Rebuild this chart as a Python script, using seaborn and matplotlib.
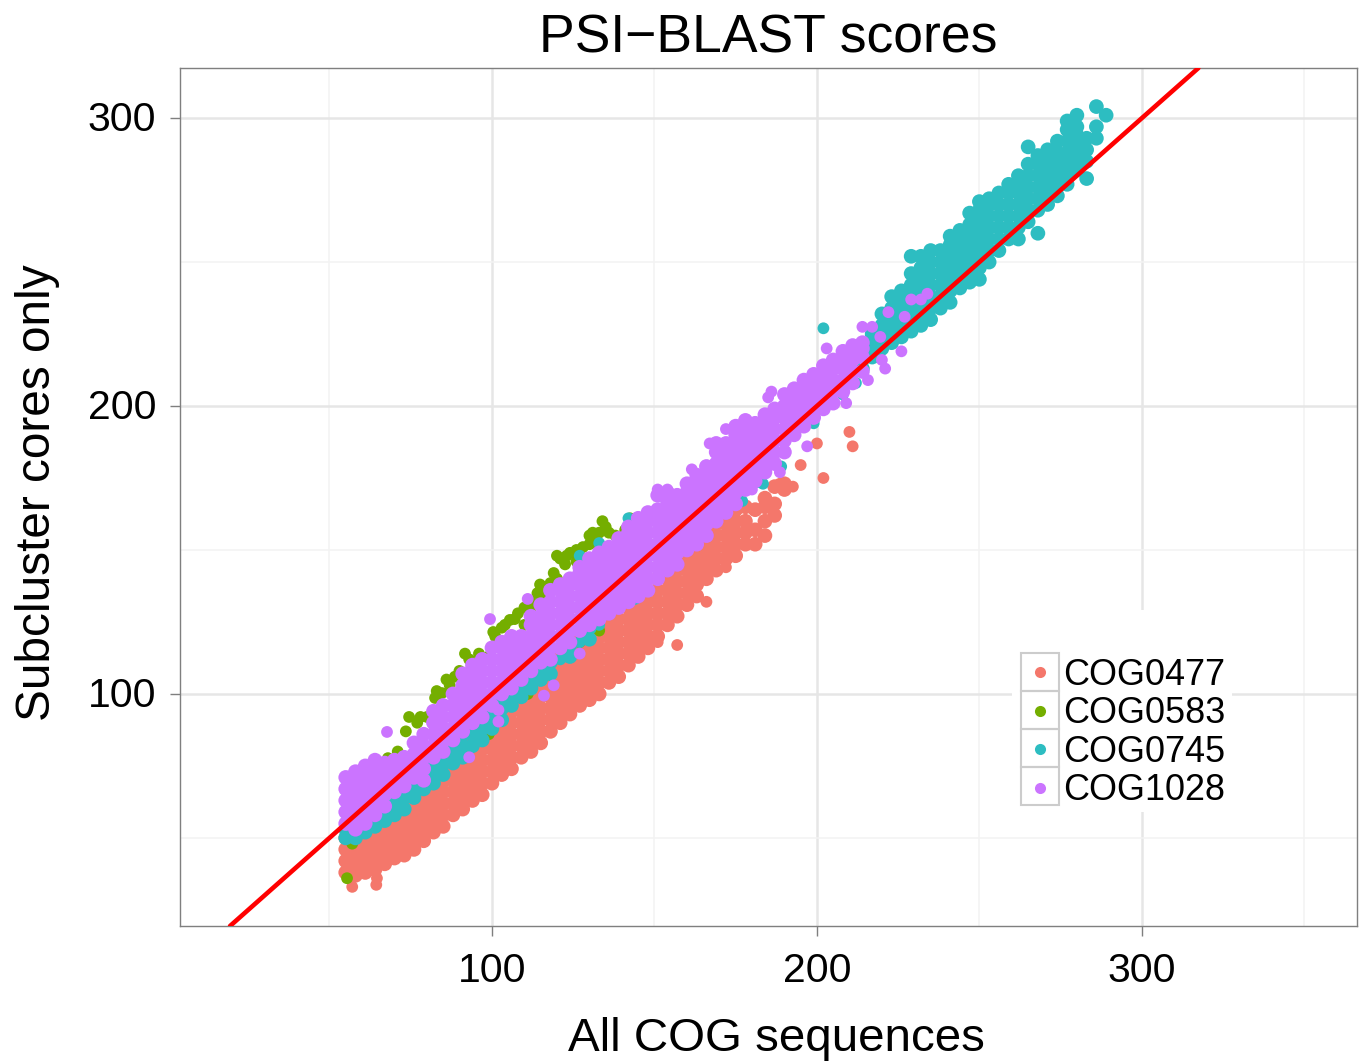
#!/usr/bin/env python3
"""PSI-BLAST scores: subcluster cores against all COG sequences."""

import pandas as pd
import seaborn as sns
import matplotlib.pyplot as plt
from matplotlib.lines import Line2D
from matplotlib.patches import Rectangle
from matplotlib.transforms import ScaledTranslation

WIDTH, HEIGHT = 1363, 1061

# values, one x with the y values seen above it
salmon_x = [55, 58, 61, 64, 67, 70, 73, 76, 79, 82, 85, 88, 91, 94, 97, 100, 103, 106, 109, 112,
            115, 118, 121, 124, 127, 130, 133, 136, 139, 142, 145, 148, 151, 154, 157, 160, 163,
            166, 169, 172, 175, 178, 181, 184, 187, 190]
salmon_y = [[38, 42, 46, 50], [37, 41, 45, 49, 52], [38, 42, 46, 50, 53], [39, 43, 47, 51, 55],
            [41, 45, 49, 53, 57], [43, 47, 51, 55, 59], [44, 48, 52, 56, 60, 63],
            [46, 50, 54, 58, 62, 66], [49, 53, 57, 61, 65, 69], [52, 56, 60, 64, 68, 72],
            [54, 58, 62, 66, 70, 74], [58, 62, 66, 70, 74, 78], [60, 64, 68, 72, 76, 80],
            [63, 67, 71, 75, 79, 83], [65, 69, 73, 77, 81, 85], [69, 73, 77, 81, 85, 89, 92],
            [72, 76, 80, 84, 88, 92, 95], [74, 78, 82, 86, 90, 94, 98],
            [78, 82, 86, 90, 94, 98, 101], [80, 84, 88, 92, 96, 100, 104],
            [83, 87, 91, 95, 99, 103, 107], [87, 91, 95, 99, 103, 107, 110],
            [90, 94, 98, 102, 106, 110, 113], [93, 97, 101, 105, 109, 113, 116],
            [96, 100, 104, 108, 112, 116, 119], [98, 102, 106, 110, 114, 118, 122],
            [100, 104, 108, 112, 116, 120, 124], [104, 108, 112, 116, 120, 124, 127],
            [106, 110, 114, 118, 122, 126, 130], [110, 114, 118, 122, 126, 130, 133],
            [113, 117, 121, 125, 129, 133], [116, 120, 124, 128, 132, 136],
            [120, 124, 128, 132, 136, 140], [124, 128, 132, 136, 140, 144],
            [127, 131, 135, 139, 143, 147], [131, 135, 139, 143, 147, 150],
            [134, 138, 142, 146, 150, 153], [140, 144, 148, 152, 156], [143, 147, 151, 155, 159],
            [147, 151, 155, 159], [148, 152, 156, 160, 164], [152, 156, 160, 165],
            [152, 157, 164], [155, 160, 165, 168], [162, 166, 172], [171, 173]]
salmon_extra_x = [57, 64.4, 64.6, 151, 157, 166, 172, 195, 202, 200, 210, 211, 192.6, 188.6]
salmon_extra_y = [33, 33.7, 36, 118, 117, 132, 144, 179.5, 175, 187, 191, 186, 172, 173]

green_x = [55.4, 57, 68, 71, 73.5, 74.5, 77, 82.5, 84.6, 86, 88.6, 91.7, 91.7, 96, 99, 100.4, 103,
           105.5, 108, 111.7, 114, 114.8, 118, 120, 122.5, 124, 128, 132, 134, 130, 141, 142.5,
           99, 111, 127, 133, 110, 116, 120, 126, 80, 94, 131, 136, 138,
           78, 83, 87, 90, 93, 101, 104, 107, 110, 112, 116, 119, 121, 123, 126, 130, 133, 135]
green_y = [36, 48, 77.7, 80, 87, 92, 90, 98.6, 100.3, 105, 106, 105, 114, 114, 113, 121.5, 123,
           125.7, 128, 129, 135, 138, 138.5, 148, 145, 149, 151, 152.4, 160, 152, 157, 161,
           86, 100, 118, 122, 124, 134, 140, 146, 92, 110, 156, 156, 155,
           92, 101, 103, 108, 112, 120, 124, 126, 130, 132, 137, 142, 147, 148, 150, 155, 156, 158]

teal_x = [55, 58, 61, 64, 67, 70, 73, 76, 79, 82, 85, 88, 91, 94, 97, 100, 103, 106, 109, 112, 115,
          118, 124, 130, 214, 217, 220, 223, 226, 229, 232, 235, 238, 241, 244, 247, 250, 253,
          256, 259, 262, 265, 268, 271, 274, 277, 280, 283, 286, 289]
teal_y = [[50, 53], [50, 54], [52, 56, 60], [54, 58, 62], [56, 60, 64], [58, 62, 66], [60, 64, 68],
          [64, 68, 72], [67, 71, 75], [69, 73, 77], [72, 76, 80], [76, 80, 84], [78, 82, 86],
          [82, 86, 90], [84, 88, 92], [88, 92, 96], [91, 95, 99], [96, 100], [99, 103], [102, 106],
          [105, 109], [107, 111], [113, 117], [119, 123], [213, 217, 221], [217, 221, 225],
          [220, 224, 228, 232], [222, 226, 230, 234, 238], [224, 228, 232, 236, 240],
          [226, 230, 234, 238, 242, 246, 252], [228, 232, 236, 240, 244, 248, 252],
          [230, 234, 238, 242, 246, 250, 254], [234, 238, 242, 246, 250, 254],
          [236, 240, 244, 248, 252, 256, 259], [241, 245, 249, 253, 257, 261],
          [243, 247, 251, 255, 259, 263, 267], [244, 248, 252, 256, 260, 264, 268, 271],
          [250, 254, 258, 262, 266, 270, 272], [254, 258, 262, 266, 270, 274],
          [258, 262, 266, 270, 274, 277], [258, 262, 266, 270, 274, 278, 280],
          [264, 268, 272, 276, 280, 284, 290], [260, 268, 272, 276, 280, 284, 287],
          [270, 274, 278, 282, 286, 289], [273, 277, 281, 285, 288, 292],
          [277, 280, 284, 288, 292, 296, 299], [282, 286, 290, 294, 297, 301],
          [279, 285, 289, 293], [293, 297, 304], [301]]
teal_extra_x = [144, 121, 127, 133, 142, 183.4, 181.6, 189, 177, 202, 208, 212, 199, 210,
                121, 127, 133]
teal_extra_y = [133, 138, 148, 152.4, 161, 173, 173.6, 179, 167, 227, 204, 208, 194, 212,
                112, 118, 124]

pink_x = [55, 58, 61, 64, 67, 70, 73, 76, 79, 82, 85, 88, 91, 94, 97, 100, 103, 106, 109, 112, 115,
          118, 121, 124, 127, 130, 133, 136, 139, 142, 145, 148, 151, 154, 157, 160, 163, 166,
          169, 172, 175, 178, 181, 184, 187, 190, 193, 196, 199, 202, 205, 208, 211, 214]
pink_y = [[55, 59, 63, 67, 71], [53, 57, 61, 65, 69, 73], [55, 59, 63, 67, 71, 75],
          [58, 62, 66, 70, 74, 77], [61, 65, 69, 73, 76], [66, 70, 74, 77], [68, 72, 76, 78],
          [71, 75, 79, 83], [70, 74, 78, 82, 86], [78, 82, 86, 90, 94], [80, 84, 88, 92, 96],
          [84, 88, 92, 96, 100], [87, 91, 95, 99, 103, 107], [90, 94, 98, 102, 106, 110],
          [92, 96, 100, 104, 108, 112], [96, 100, 104, 108, 112, 116],
          [100, 104, 108, 112, 116, 118], [102, 106, 110, 114, 118, 120],
          [105, 109, 113, 117, 120], [108, 112, 116, 120, 124, 127],
          [111, 115, 119, 123, 127, 131], [112, 116, 120, 124, 128, 132, 136],
          [116, 120, 124, 128, 132, 136, 138], [118, 122, 126, 130, 134, 138, 140],
          [122, 126, 130, 134, 138, 142, 144], [124, 128, 132, 136, 140, 144, 147],
          [126, 130, 134, 138, 142, 146, 149], [128, 132, 136, 140, 144, 148, 151],
          [130, 134, 138, 142, 146, 150, 154], [132, 136, 140, 144, 148, 152, 156, 158],
          [134, 138, 142, 146, 150, 154, 158, 161], [136, 140, 144, 148, 152, 156, 160, 163],
          [140, 144, 148, 152, 156, 160, 164, 169], [143, 147, 151, 155, 159, 163, 167, 170],
          [145, 149, 153, 157, 161, 165, 169], [150, 154, 158, 162, 166, 170, 173],
          [152, 156, 160, 164, 168, 172, 176], [155, 159, 163, 167, 171, 175, 179],
          [160, 164, 168, 172, 176, 180, 184, 187], [163, 167, 171, 175, 179, 183, 187],
          [166, 170, 174, 178, 182, 186, 190, 193], [171, 175, 179, 183, 187, 191, 195],
          [174, 178, 182, 186, 190, 194], [177, 181, 185, 189, 193, 197],
          [180, 184, 188, 192, 196, 199], [184, 188, 192, 196, 200, 204],
          [190, 194, 198, 202, 206], [193, 197, 201, 205, 209], [196, 200, 204, 208, 211],
          [199, 203, 207, 211, 214], [201, 205, 209, 213, 216], [205, 209, 213, 217, 219],
          [208, 212, 216, 219, 221], [212, 217, 220, 222]]
pink_extra_x = [99.4, 67.7, 111, 116, 119, 127, 93, 102, 102, 197, 188.6, 182, 180, 209, 215.7,
                203, 214, 217, 219.5, 222, 227, 229, 232, 234, 226, 220, 221, 172, 178, 185, 186,
                151, 154, 161.5, 167]
pink_extra_y = [126, 86.8, 133, 99.4, 103, 114, 78, 94.4, 90.4, 186, 177, 177, 171, 201, 209,
                220, 227.5, 227.5, 224, 232.6, 231, 237, 237, 239, 219, 216, 213, 192, 195, 203,
                205, 171, 171, 178, 187]

cog_names = ['COG0477', 'COG0583', 'COG0745', 'COG1028']
cog_colors = ['#F4776B', '#74AE00', '#2DBDC1', '#CB74FF']
x_ticks = [100, 200, 300]
y_ticks = [100, 200, 300]
x_minor = [50, 150, 250, 350]
y_minor = [50, 150, 250]


def columns_to_frame(name, xs, ys, extra_x=(), extra_y=()):
    """Flatten one x per column with its y values into long rows."""
    dense = [(x, y, 'dense') for x, col in zip(xs, ys) for y in col]
    single = [(x, y, 'single') for x, y in zip(extra_x, extra_y)]
    df = pd.DataFrame(dense + single, columns=['all_cog', 'core', 'pt'])
    df['cog'] = name
    return df


def px_to_axes(ax, px, py):
    """Picture pixels (origin top left) to axes fractions."""
    box = ax.get_position()
    return ((px / WIDTH - box.x0) / box.width,
            ((1 - py / HEIGHT) - box.y0) / box.height)


def main():
    sns.set_theme(style='white')
    plt.rcParams['font.family'] = ['Liberation Sans', 'DejaVu Sans']

    df = pd.concat([
        columns_to_frame('COG0477', salmon_x, salmon_y, salmon_extra_x, salmon_extra_y),
        pd.DataFrame({'all_cog': green_x, 'core': green_y, 'pt': 'single', 'cog': 'COG0583'}),
        columns_to_frame('COG0745', teal_x, teal_y, teal_extra_x, teal_extra_y),
        columns_to_frame('COG1028', pink_x, pink_y, pink_extra_x, pink_extra_y),
    ], ignore_index=True)

    fig = plt.figure(figsize=(WIDTH / 100, HEIGHT / 100), dpi=100)
    ax = fig.add_axes([180 / WIDTH, 1 - 926 / HEIGHT, 1177 / WIDTH, 858 / HEIGHT])

    sns.scatterplot(data=df, x='all_cog', y='core', hue='cog', hue_order=cog_names,
                    palette=cog_colors, size='pt', sizes={'dense': 112, 'single': 72},
                    linewidth=0, alpha=1, legend=False, ax=ax, zorder=3)
    ax.axline((100, 100), slope=1, color='#FF0000', lw=3.3, zorder=4)

    ax.set_xlim(4, 366.2)
    ax.set_ylim(19.4, 317.4)
    ax.set_xticks(x_ticks)
    ax.set_yticks(y_ticks)
    ax.set_xticks(x_minor, minor=True)
    ax.set_yticks(y_minor, minor=True)
    ax.grid(True, which='major', color='#E6E6E6', lw=1.8, zorder=1)
    ax.grid(True, which='minor', color='#F3F3F3', lw=1.1, zorder=1)
    ax.set_axisbelow(True)
    ax.tick_params(axis='x', which='major', labelsize=29.5, length=7, width=1,
                   color='#7F7F7F', bottom=True, pad=12)
    ax.tick_params(axis='y', which='major', labelsize=29.5, length=7, width=1,
                   color='#7F7F7F', left=True, pad=10)
    ax.tick_params(axis='both', which='minor', length=0)
    for spine in ax.spines.values():
        spine.set_color('#7F7F7F')
        spine.set_linewidth(1)

    ax.set_title('PSI\u2212BLAST scores', fontsize=38.5, pad=11, color='black')
    ax.set_xlabel('All COG sequences', fontsize=34.2, labelpad=19, color='black')
    ax.xaxis.label.set_x(0.507)
    ax.set_ylabel('Subcluster cores only', fontsize=34.4, labelpad=20, color='black')
    ax.yaxis.label.set_y(0.505)
    for label in ax.get_xticklabels() + ax.get_yticklabels():
        label.set_color('black')
    # y tick labels sit a little high in the original
    nudge = ScaledTranslation(0, 1.5 / 72, fig.dpi_scale_trans)
    for label in ax.get_yticklabels():
        label.set_transform(label.get_transform() + nudge)

    # white patch under the legend, the grid stops around it
    x0, y1 = px_to_axes(ax, 1012, 610)
    x1, y0 = px_to_axes(ax, 1232, 812)
    ax.add_patch(Rectangle((x0, y0), x1 - x0, y1 - y0, transform=ax.transAxes,
                           facecolor='white', edgecolor='none', zorder=2))

    handles = [Line2D([], [], marker='o', linestyle='none', color=c, markeredgewidth=0, markersize=8)
               for c in cog_colors]
    lx, ly = px_to_axes(ax, 1021, 733)
    ax.legend(handles, cog_names, loc='center left', bbox_to_anchor=(lx, ly), frameon=False,
              fontsize=25.9, labelspacing=0.10, borderpad=0, borderaxespad=0,
              handlelength=1.05, handletextpad=0.12, labelcolor='black')

    # key boxes
    for top in [653, 691, 729, 767]:
        bx, by = px_to_axes(ax, 1021, top + 38)
        bx2, by2 = px_to_axes(ax, 1059, top)
        ax.add_patch(Rectangle((bx, by), bx2 - bx, by2 - by, transform=ax.transAxes,
                               facecolor='none', edgecolor='#CCCCCC', lw=1.5, zorder=6))

    fig.savefig('out.png', dpi=100)


if __name__ == '__main__':
    main()
